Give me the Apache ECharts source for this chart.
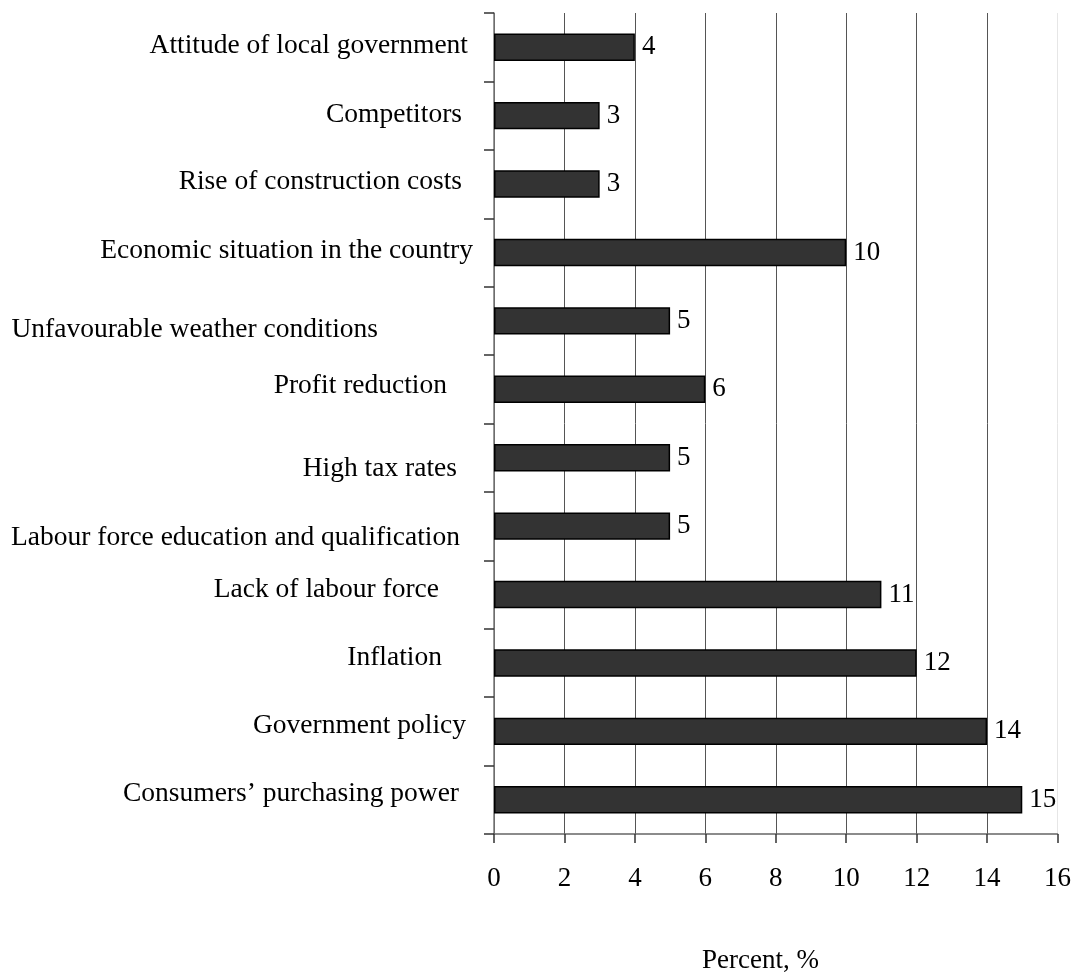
<!DOCTYPE html>
<html>
<head>
<meta charset="utf-8">
<script src="https://cdn.jsdelivr.net/npm/echarts@6/dist/echarts.min.js"></script>
<style>html,body{margin:0;padding:0;background:#fff;}#c{width:1074px;height:979px;}</style>
</head>
<body>
<div id="c"></div>
<script>
var categories = [
  "Consumers\u2019 purchasing power",
  "Government policy",
  "Inflation",
  "Lack of labour force",
  "Labour force education and qualification",
  "High tax rates",
  "Profit reduction",
  "Unfavourable weather conditions",
  "Economic situation in the country",
  "Rise of construction costs",
  "Competitors",
  "Attitude of local government"
];
var values = [15, 14, 12, 11, 5, 5, 6, 5, 10, 3, 3, 4];
var xTicks = [0, 2, 4, 6, 8, 10, 12, 14, 16];
var xTitle = "Percent, %";

// ---- layout / styling (not data) ----
var FONT = '"Liberation Serif", "Times New Roman", serif';
// the source places its category captions by hand: [shift left px, shift down px]
var captionNudge = [[15, -6], [8, -6], [32, -5], [35, -5], [14, 12], [17, 11],
                    [27, -4], [96, 9], [1, -2], [12, -2], [12, -1], [6, -1]];
var captionRich = {};
captionNudge.forEach(function (n, i) {
  var dy = n[1];
  captionRich['c' + i] = {
    fontFamily: FONT, fontSize: 27.5, color: '#000',
    padding: [Math.max(dy, 0) * 2, n[0], Math.max(-dy, 0) * 2, 0]
  };
});
var gridColors = xTicks.map(function (t, i) { return i === xTicks.length - 1 ? '#e6e6e6' : '#555'; });

var chart = echarts.init(document.getElementById('c'), null, {renderer: 'canvas'});
chart.setOption({
  animation: false,
  backgroundColor: '#fff',
  grid: {left: 494, right: 14, top: 13, bottom: 145, containLabel: false},
  xAxis: {
    type: 'value',
    min: xTicks[0], max: xTicks[xTicks.length - 1], interval: 2,
    axisLine: {show: true, lineStyle: {color: '#666', width: 1.5}},
    axisTick: {show: true, inside: false, length: 9, lineStyle: {color: '#333', width: 1.5}},
    splitLine: {show: true, lineStyle: {color: gridColors, width: 1}},
    axisLabel: {fontFamily: FONT, fontSize: 27, color: '#000', margin: 31}
  },
  yAxis: {
    type: 'category',
    data: categories,
    axisLine: {show: true, lineStyle: {color: '#777', width: 1.5}},
    axisTick: {show: true, length: 10, lineStyle: {color: '#333', width: 1.5}},
    axisLabel: {
      fontFamily: FONT, fontSize: 27.5, color: '#000', margin: 20,
      formatter: function (value, index) { return '{c' + index + '|' + value + '}'; },
      rich: captionRich
    }
  },
  graphic: [{
    type: 'text', left: 702, top: 947,
    style: {text: xTitle, font: '27px ' + FONT, fill: '#000'}
  }],
  series: [{
    type: 'bar',
    data: values,
    barWidth: '40%',
    itemStyle: {color: '#333333', borderColor: '#000', borderWidth: 1.5},
    label: {show: true, position: 'right', distance: 7, fontFamily: FONT, fontSize: 27, color: '#000'}
  }]
});
</script>
</body>
</html>
